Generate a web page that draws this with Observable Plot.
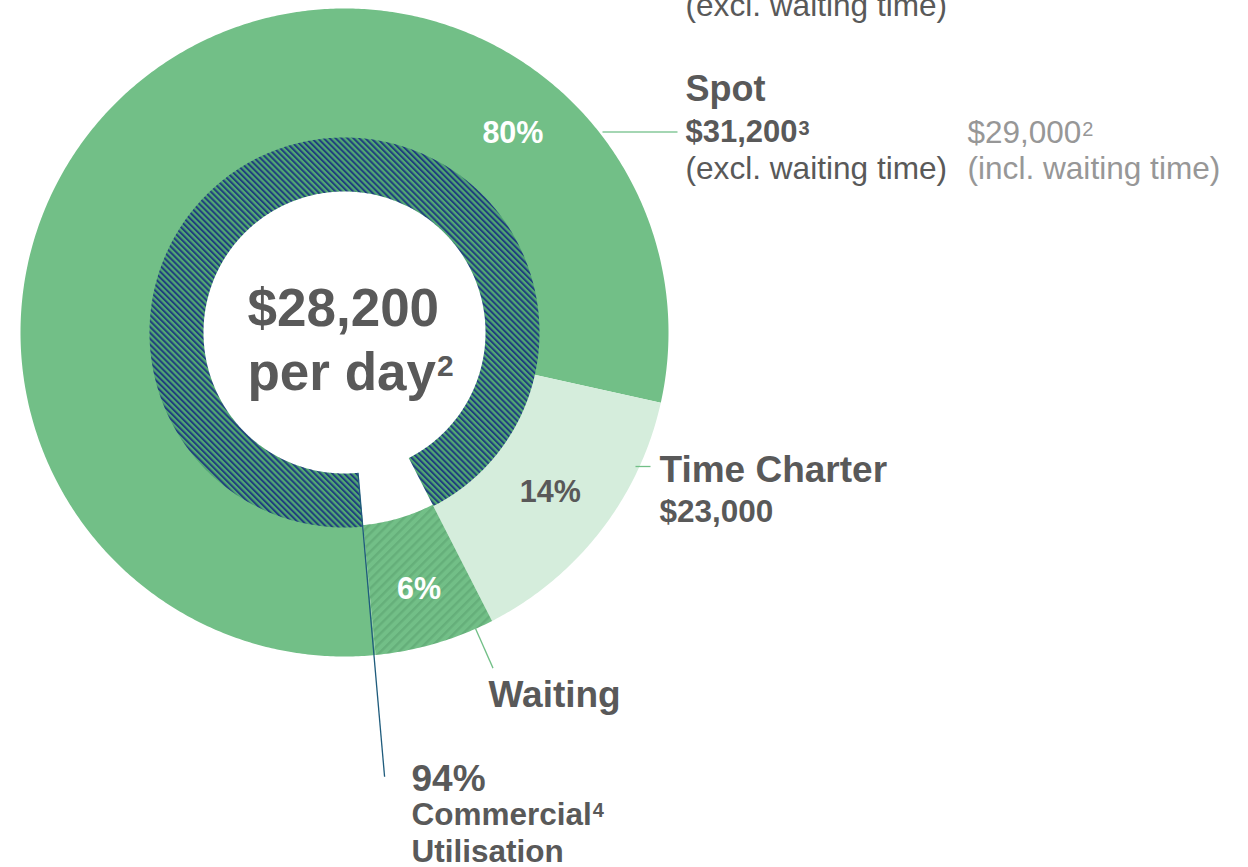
<!DOCTYPE html>
<html>
<head>
<meta charset="utf-8">
<script src="https://cdn.jsdelivr.net/npm/d3@7"></script>
<script src="https://cdn.jsdelivr.net/npm/@observablehq/plot@0.6"></script>
<style>
  html, body { margin: 0; padding: 0; background: #ffffff; }
  #chart svg { display: block; font-family: "Liberation Sans", Arial, sans-serif; }
</style>
</head>
<body>
<div id="chart"></div>
<script>
// ---------- data ----------
const categories = ["Spot", "Time Charter", "Waiting"];
const shares = [80, 14, 6];                       // % of days
const shareLabels = ["80%", "14%", "6%"];
const utilisation = [94, 6];                      // commercial utilisation: used vs waiting
const utilisationLabel = ["94%", "Commercial", "Utilisation"];
const utilisationNote = "4";
const headline = ["$28,200", "per day"];
const headlineNote = "2";
const spotRateExcl = ["$31,200", "(excl. waiting time)"];
const spotRateExclNote = "3";
const spotRateIncl = ["$29,000", "(incl. waiting time)"];
const spotRateInclNote = "2";
const timeCharterRate = ["$23,000"];
const clippedNote = ["(excl. waiting time)"];

// ---------- layout ----------
const W = 1248, H = 867;
const cx = 344, cy = 332;
const R_OUT = 324, R_MID = 193.5, RING_OUT = 195, RING_IN = 141;
const START = 174.5 * Math.PI / 180;             // rotation of the pie
const DARK = "#595959", GREY = "#979797", GREEN = "#72BF87", LIGHT = "#D5EDDC";
const FONT = "Liberation Sans, Arial, sans-serif";

function polar(r, a) { return {x: cx + r * Math.sin(a), y: cy - r * Math.cos(a)}; }
function arcPolygon(a0, a1, rIn, rOut) {
  const n = Math.max(4, Math.ceil((a1 - a0) / (Math.PI / 360)));
  const pts = [];
  for (let i = 0; i <= n; i++) pts.push(polar(rOut, a0 + (a1 - a0) * i / n));
  for (let i = n; i >= 0; i--) pts.push(polar(rIn, a0 + (a1 - a0) * i / n));
  return pts;
}

const pie = d3.pie().sort(null).value(d => d).startAngle(START).endAngle(START + 2 * Math.PI);
const outerArcs = pie(shares);
const innerArcs = pie(utilisation);

const sliceFill = {"Spot": GREEN, "Time Charter": LIGHT, "Waiting": "url(#hatchWaiting)"};

const marks = [];
// outer ring
outerArcs.forEach((a, i) => {
  marks.push(Plot.line(arcPolygon(a.startAngle, a.endAngle, R_MID, R_OUT),
    {x: "x", y: "y", curve: "linear-closed", fill: sliceFill[categories[i]], stroke: "none"}));
});
// inner ring (utilised part only)
marks.push(Plot.line(arcPolygon(innerArcs[0].startAngle, innerArcs[0].endAngle, RING_IN, RING_OUT),
  {x: "x", y: "y", curve: "linear-closed", fill: "url(#hatchNavy)", stroke: "none"}));

// connector lines
const utilEnd = innerArcs[0].startAngle;
const uA = polar(RING_IN, utilEnd), uB = polar(446, utilEnd + 0.006);
const wA = polar(R_OUT, 2.725), wB = polar(367, 2.725);
const connectors = [
  {x1: 602, y1: 131.5, x2: 677, y2: 131.5, c: "#86C99A"},
  {x1: 635, y1: 466, x2: 650, y2: 466, c: GREEN},
  {x1: wA.x, y1: wA.y, x2: wB.x, y2: wB.y, c: GREEN},
  {x1: uA.x, y1: uA.y, x2: uB.x, y2: uB.y, c: "#1E5B7C"}
];
marks.push(Plot.link(connectors, {x1: "x1", y1: "y1", x2: "x2", y2: "y2", stroke: "c", strokeWidth: 1.3}));

// percentage labels
const pctPos = [
  polar(262, 40 * Math.PI / 180),
  polar(260, (outerArcs[1].startAngle + outerArcs[1].endAngle) / 2),
  polar(266, (outerArcs[2].startAngle + outerArcs[2].endAngle) / 2)
];
const pctFill = ["#ffffff", DARK, "#ffffff"];
shareLabels.forEach((t, i) => {
  marks.push(Plot.text([t], {x: [pctPos[i].x], y: [pctPos[i].y + 11], text: d => d,
    fill: pctFill[i], fontSize: 30.5, fontWeight: "bold", textAnchor: "middle", lineAnchor: "bottom", fontFamily: FONT}));
});

const measureCtx = document.createElement("canvas").getContext("2d");
function textWidth(t, size, weight) {
  measureCtx.font = `${weight} ${size}px "Liberation Sans"`;
  return measureCtx.measureText(t).width;
}
function label(t, x, y, size, weight, fill) {
  return Plot.text([t], {x: [x], y: [y], text: d => d, fill, fontSize: size, fontWeight: weight,
    textAnchor: "start", lineAnchor: "bottom", fontFamily: FONT});
}
// label with a superscript footnote marker
function labelSup(t, note, x, y, size, weight, fill, supSize, raise) {
  const w = textWidth(t, size, weight);
  return [label(t, x, y, size, weight, fill), label(note, x + w + 1, y - raise, supSize, weight, fill)];
}

// centre headline
marks.push(label(headline[0], 247, 325, 53, "bold", DARK));
marks.push(...labelSup(headline[1], headlineNote, 247, 389, 53, "bold", DARK, 30, 14));
// clipped note at the very top
marks.push(label(clippedNote[0], 685, 15, 31.6, "normal", DARK));
// Spot block
marks.push(label(categories[0], 685, 100, 36, "bold", DARK));
marks.push(...labelSup(spotRateExcl[0], spotRateExclNote, 685, 141, 31, "bold", DARK, 20, 7));
marks.push(label(spotRateExcl[1], 685, 178, 31.6, "normal", DARK));
marks.push(...labelSup(spotRateIncl[0], spotRateInclNote, 967, 142, 31.5, "normal", GREY, 20, 7));
marks.push(label(spotRateIncl[1], 967, 178, 31.6, "normal", GREY));
// Time Charter block
marks.push(label(categories[1], 659, 481, 37, "bold", DARK));
marks.push(label(timeCharterRate[0], 659, 521, 31.5, "bold", DARK));
// Waiting
marks.push(label(categories[2], 488, 706, 37, "bold", DARK));
// Utilisation
marks.push(label(utilisationLabel[0], 411, 790, 37, "bold", DARK));
marks.push(...labelSup(utilisationLabel[1], utilisationNote, 411, 824, 31.5, "bold", DARK, 20, 8));
marks.push(label(utilisationLabel[2], 411, 861, 31.5, "bold", DARK));

const chart = Plot.plot({
  width: W, height: H,
  margin: 0, marginTop: 0, marginRight: 0, marginBottom: 0, marginLeft: 0,
  x: {domain: [0, W], range: [0, W], axis: null},
  y: {domain: [0, H], range: [0, H], axis: null},
  style: {background: "#ffffff", fontFamily: FONT},
  marks
});

// hatch patterns
const ns = "http://www.w3.org/2000/svg";
const defs = document.createElementNS(ns, "defs");
defs.innerHTML = `
  <pattern id="hatchNavy" patternUnits="userSpaceOnUse" width="4.2" height="4.2" patternTransform="rotate(-45)">
    <rect width="4.2" height="4.2" fill="#52A872"></rect>
    <rect width="2" height="4.2" fill="#203F7E"></rect>
  </pattern>
  <pattern id="hatchWaiting" patternUnits="userSpaceOnUse" width="6.5" height="6.5" patternTransform="rotate(45)">
    <rect width="6.5" height="6.5" fill="#72BF87"></rect>
    <rect width="2.4" height="6.5" fill="#65AF7A"></rect>
  </pattern>`;
chart.insertBefore(defs, chart.firstChild);
document.getElementById("chart").appendChild(chart);
</script>
</body>
</html>
